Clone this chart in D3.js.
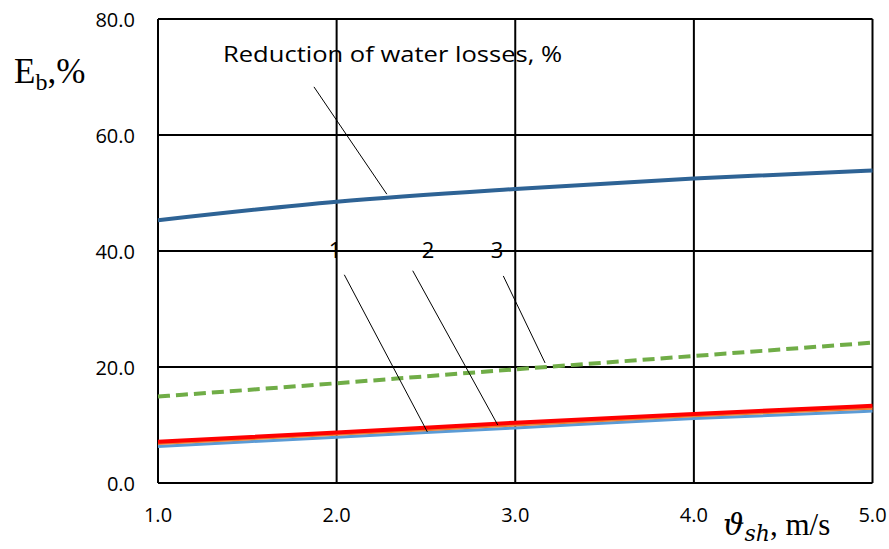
<!DOCTYPE html>
<html>
<head>
<meta charset="utf-8">
<script src="https://cdn.jsdelivr.net/npm/d3@7"></script>
<style>
  body { margin: 0; background: #fff; }
  svg text { font-family: "Open Sans", sans-serif; }
</style>
</head>
<body>
<div id="chart"></div>
<script>
const xValues = [1, 2, 3, 4, 5];
const xTicks = [1, 2, 3, 4, 5];
const yTicks = [0, 20, 40, 60, 80];

const waterLosses = [45.3, 48.5, 50.7, 52.5, 53.9];
const series3 = [14.9, 17.2, 19.6, 21.9, 24.2];
const series2 = [6.8, 8.4, 10.0, 11.6, 12.9];
const series1 = [6.3, 7.9, 9.5, 11.1, 12.4];
const seriesRed = [7.1, 8.7, 10.4, 11.9, 13.3];

// leader lines in data units
const leaders = [
  [[1.873, 68.3], [2.281, 49.8]],
  [[2.043, 35.9], [2.508, 8.8]],
  [[2.426, 36.6], [2.902, 10.0]],
  [[2.933, 35.7], [3.167, 20.7]]
];
const numLabels = [["1", 1.991, 38.8], ["2", 2.512, 38.8], ["3", 2.898, 38.8]];

const W = 889, H = 549;
const m = { left: 158, right: 16.5, top: 19, bottom: 66 };

const svg = d3.select('#chart').append('svg')
  .attr('width', W).attr('height', H);

const x = d3.scaleLinear().domain([1, 5]).range([m.left, W - m.right]);
const y = d3.scaleLinear().domain([0, 80]).range([H - m.bottom, m.top]);

// title inside plot (under the gridlines)
svg.append('text')
  .attr('x', x(1.364)).attr('y', y(72.6))
  .attr('textLength', 339).attr('lengthAdjust', 'spacingAndGlyphs')
  .style('font-size', '22px').attr('fill', '#000')
  .text('Reduction of water losses, %');

// grid
const grid = svg.append('g').attr('stroke', '#000').attr('stroke-width', 2);
grid.selectAll('.h').data(yTicks).join('line')
  .attr('x1', x(1)).attr('x2', x(5))
  .attr('y1', d => y(d)).attr('y2', d => y(d));
grid.selectAll('.v').data(xTicks).join('line')
  .attr('y1', y(0)).attr('y2', y(80))
  .attr('x1', d => x(d)).attr('x2', d => x(d));

// tick labels
svg.append('g').selectAll('text').data(yTicks).join('text')
  .attr('x', 135).attr('y', d => y(d) + 8)
  .attr('text-anchor', 'end').style('font-size', '20px')
  .text(d => d.toFixed(1));
svg.append('g').selectAll('text').data(xTicks).join('text')
  .attr('x', d => x(d)).attr('y', 522)
  .attr('text-anchor', 'middle').style('font-size', '20px')
  .text(d => d.toFixed(1));

const line = d3.line()
  .x((d, i) => x(xValues[i]))
  .y(d => y(d))
  .curve(d3.curveMonotoneX);

const drawSeries = (data, color, width, dash) => {
  svg.append('path')
    .datum(data)
    .attr('d', line)
    .attr('fill', 'none')
    .attr('stroke', color)
    .attr('stroke-width', width)
    .attr('stroke-dasharray', dash || null);
};

drawSeries(waterLosses, '#2e6395', 4);
drawSeries(series3, '#70ad47', 4, '12,6');
drawSeries(series1, '#5b9bd5', 3);
drawSeries(series2, '#ed7d31', 3);
drawSeries(seriesRed, '#ff0000', 4);

// leaders
svg.append('g').selectAll('line').data(leaders).join('line')
  .attr('x1', d => x(d[0][0])).attr('y1', d => y(d[0][1]))
  .attr('x2', d => x(d[1][0])).attr('y2', d => y(d[1][1]))
  .attr('stroke', '#000').attr('stroke-width', 1);

svg.append('g').selectAll('text').data(numLabels).join('text')
  .attr('x', d => x(d[1])).attr('y', d => y(d[2]))
  .attr('text-anchor', 'middle').style('font-size', '22px').attr('fill', '#000')
  .text(d => d[0]);

// axis titles
const yt = svg.append('text')
  .attr('x', 14).attr('y', 83)
  .style('font-family', '"Liberation Serif", serif')
  .style('font-size', '35px');
yt.append('tspan').text('E');
yt.append('tspan').attr('dy', 7).style('font-size', '24px').text('b');
yt.append('tspan').attr('dy', -7).text(',%');

const xt = svg.append('text')
  .attr('x', 723).attr('y', 535)
  .style('font-family', '"DejaVu Serif", serif')
  .style('font-size', '30px');
xt.append('tspan').style('font-style', 'italic').text('\u03D1');
xt.append('tspan').attr('dy', 6).style('font-style', 'italic').style('font-size', '22px').text('sh');
xt.append('tspan').attr('dy', -6).style('font-family', '"Liberation Serif", serif')
  .style('font-size', '31px').text(', m/s');
</script>
</body>
</html>
